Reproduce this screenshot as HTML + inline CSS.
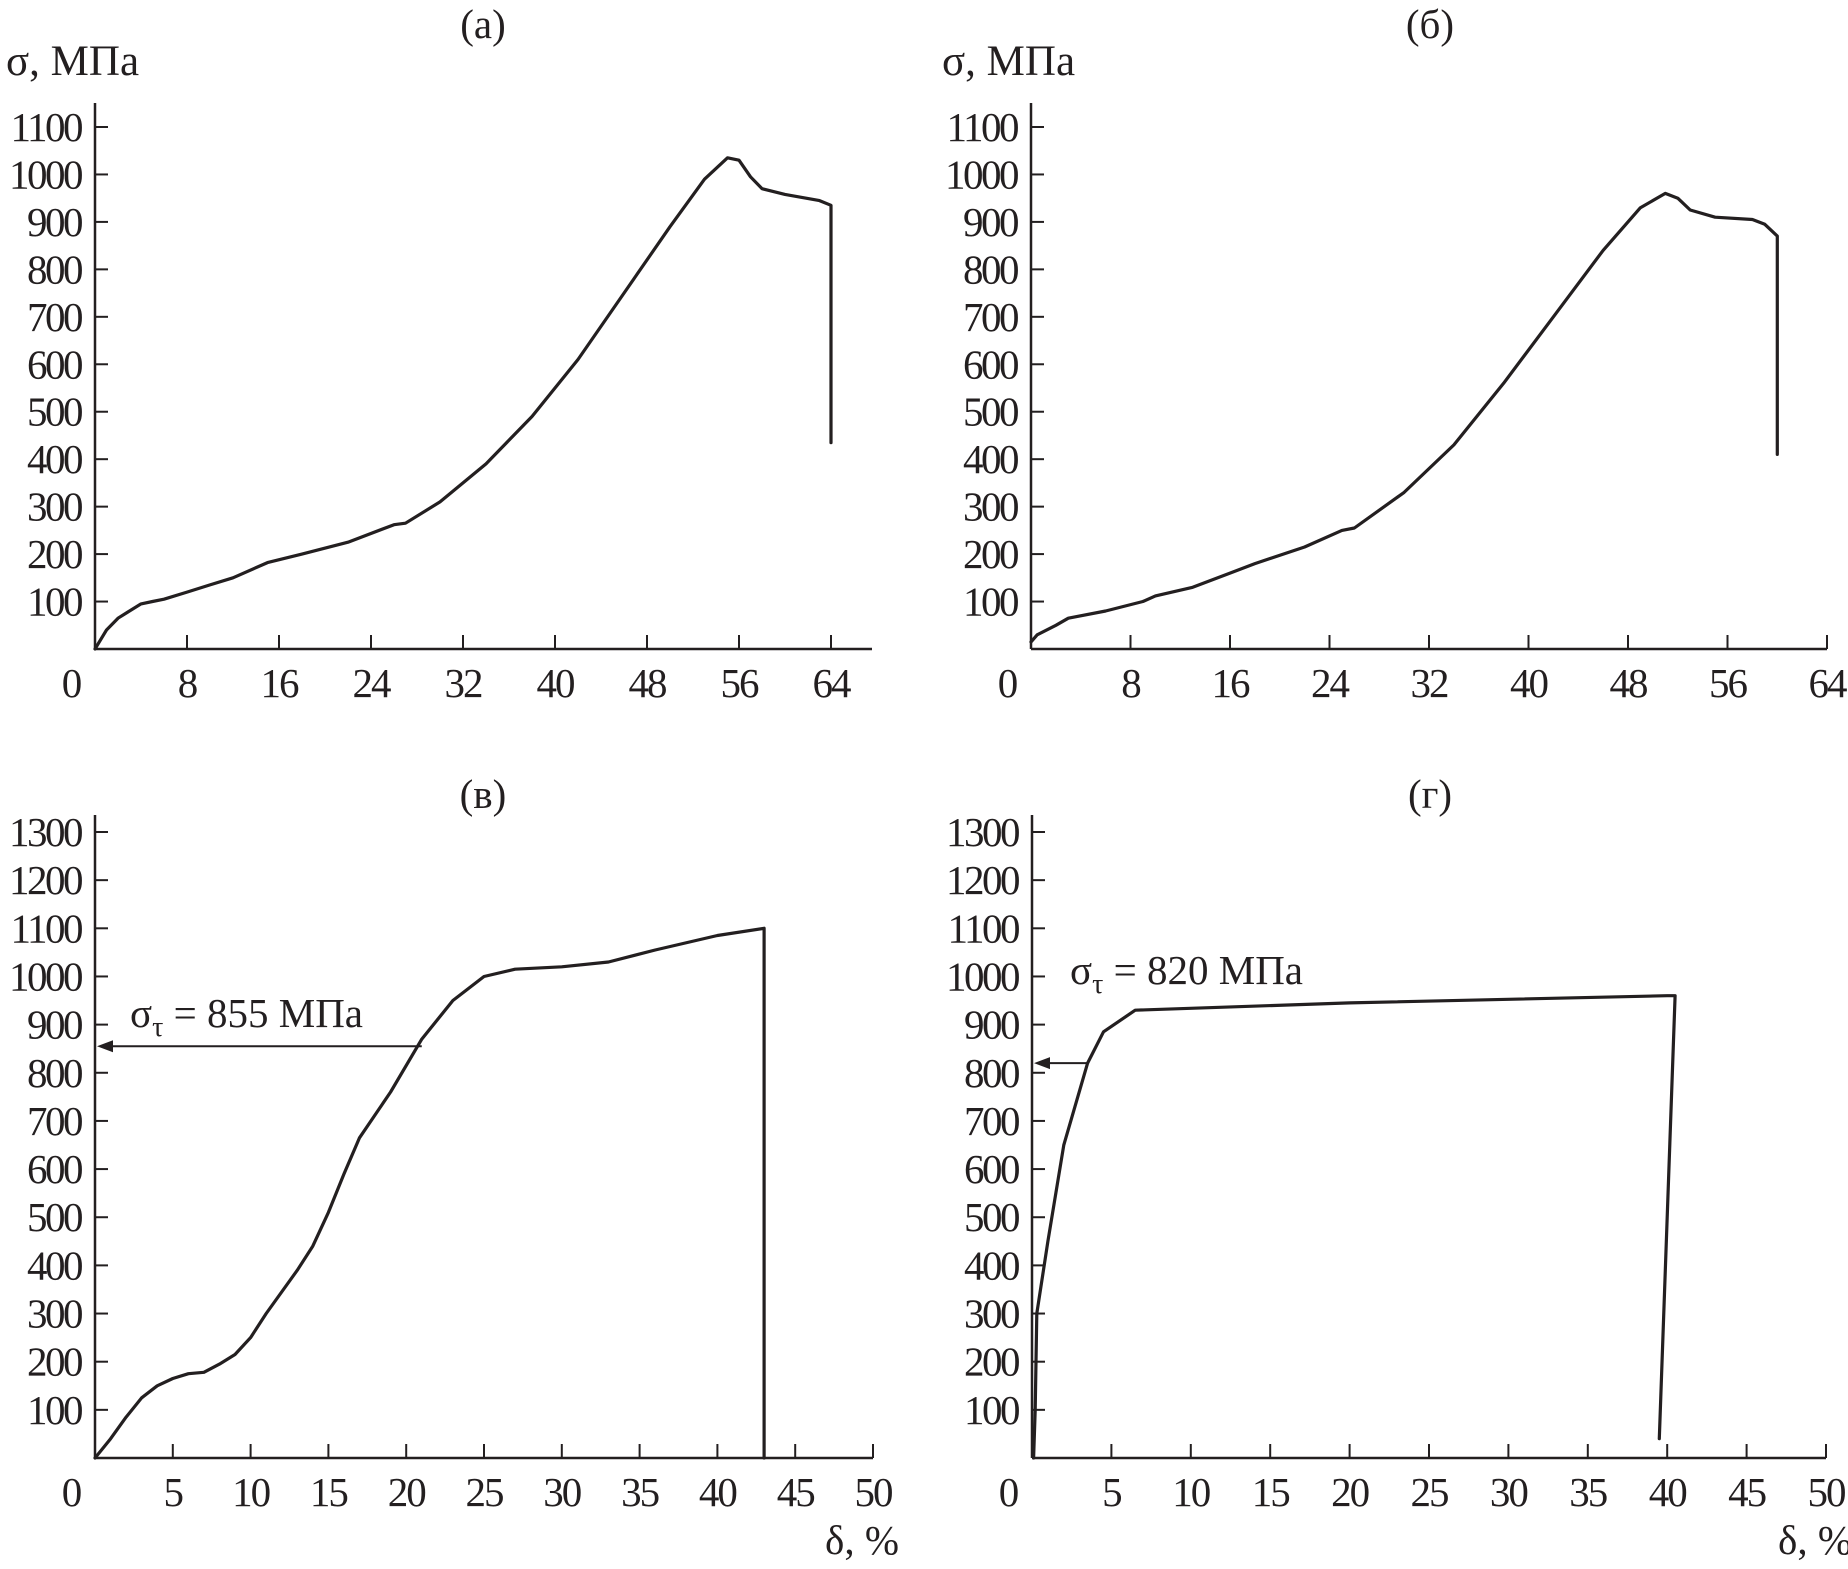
<!DOCTYPE html>
<html><head><meta charset="utf-8">
<style>
html,body{margin:0;padding:0;background:#fff;}
svg{display:block;}
text{font-family:"Liberation Serif","DejaVu Serif",serif;fill:#231f20;}
</style></head>
<body>
<svg id="chart" width="1848" height="1569" viewBox="0 0 1848 1569" xmlns="http://www.w3.org/2000/svg" font-family="Liberation Serif, serif"></svg>
<script>
// Panel (а)
const aX = [0,1,2,3,4,5,6,8,10,12,15,18,22,26,27,30,34,38,42,46,50,53,55,56,57,58,60,63,64,64];
const aY = [0,40,65,80,95,100,105,120,135,150,182,200,225,262,265,310,390,490,610,750,890,990,1035,1030,995,970,958,945,935,435];
// Panel (б)
const bX = [0,0.5,2,3,6,9,10,13,16,18,22,25,26,30,34,38,42,46,49,51,52,53,55,58,59,60,60];
const bY = [15,30,50,65,80,100,112,130,160,180,215,250,255,330,430,560,700,840,930,960,950,925,910,905,895,870,410];
// Panel (в)
const cX = [0,1,2,3,4,5,6,7,8,9,10,11,13,14,15,16,17,19,21,23,25,27,30,33,36,40,43,43];
const cY = [0,40,85,125,150,165,175,178,195,215,250,300,390,440,510,590,665,760,870,950,1000,1015,1020,1030,1055,1085,1100,0];
// Panel (г)
const dX = [0.1,0.2,0.3,1,2,3.5,4.5,6.5,20,40,40.5,39.5];
const dY = [0,100,300,450,650,820,885,930,945,960,960,40];
const ticksTop = [0,8,16,24,32,40,48,56,64];
const ticksBot = [0,5,10,15,20,25,30,35,40,45,50];
const yTop = [100,200,300,400,500,600,700,800,900,1000,1100];
const yBot = [100,200,300,400,500,600,700,800,900,1000,1100,1200,1300];
const yieldC = 855, yieldCX = 21;
const yieldD = 820, yieldDX = 3.5;

const NS="http://www.w3.org/2000/svg";
const svg=document.getElementById('chart');
function el(tag,attrs,parent,txt){const e=document.createElementNS(NS,tag);for(const k in attrs)e.setAttribute(k,attrs[k]);if(txt!==undefined)e.textContent=txt;(parent||svg).appendChild(e);return e;}

function panel(cfg){
  const g=el('g',{});
  
  
  const sx=v=>cfg.x0+v/cfg.xmax*(cfg.x1-cfg.x0);
  const sy=v=>cfg.y0-v/cfg.ymax*(cfg.y0-cfg.y1);
  const ax=el('line',{x1:cfg.x0,y1:cfg.y0,x2:cfg.x0,y2:cfg.axTop,stroke:'#231f20','stroke-width':2.5},g);
  
  
  const bx=el('line',{x1:cfg.x0,y1:cfg.y0,x2:cfg.axRight,y2:cfg.y0,stroke:'#231f20','stroke-width':2.5},g);
  
  
  cfg.yt.forEach(v=>{
    el('line',{x1:cfg.x0,y1:sy(v),x2:cfg.x0+13,y2:sy(v),stroke:'#231f20','stroke-width':2},g);
    const t=el('text',{x:cfg.x0-14,y:sy(v)+14,'text-anchor':'end','font-size':41,'letter-spacing':'-2.5'},g,String(v));
    
    
  });
  cfg.xt.forEach(v=>{
    if(v!==0) el('line',{x1:sx(v),y1:cfg.y0,x2:sx(v),y2:cfg.y0-14,stroke:'#231f20','stroke-width':2},g);
    const t=el('text',{x:v===0?cfg.x0-24:sx(v),y:cfg.y0+48,'text-anchor':'middle','font-size':41,'letter-spacing':'-2'},g,String(v));
    
    
  });
  const title=el('text',{x:cfg.tx,y:cfg.ty,'text-anchor':'middle','font-size':41},g,cfg.title);
  
  
  if(cfg.ylabel){
    const t=el('text',{x:cfg.x0-89,y:cfg.y1-52,'font-size':43},g,'σ, МПа');
    
    
  }
  if(cfg.xlabel){
    const t=el('text',{x:cfg.x1+26,y:cfg.y0+96,'text-anchor':'end','font-size':41},g,'δ, %');
    
    
  }
  const d=cfg.xs.map((v,i)=>(i?'L':'M')+sx(v).toFixed(1)+','+sy(cfg.ys[i]).toFixed(1)).join(' ');
  const p=el('path',{d:d,fill:'none',stroke:'#231f20','stroke-width':3.2,'stroke-linejoin':'round','stroke-linecap':'round'},g);
  
  
  if(cfg.yieldV!==undefined){
    const yy=sy(cfg.yieldV);
    const l=el('line',{x1:sx(cfg.yieldX),y1:yy,x2:cfg.x0+14,y2:yy,stroke:'#231f20','stroke-width':2},g);
    
    
    const h=el('path',{d:`M${cfg.x0+2},${yy} L${cfg.x0+18},${yy-6} L${cfg.x0+18},${yy+6} Z`,fill:'#231f20'},g);
    
    
    const t=el('text',{x:cfg.annX,y:cfg.annY,'font-size':41},g);
    
    
    el('tspan',{},t,'σ');
    el('tspan',{dy:9,'font-size':28},t,'τ');
    el('tspan',{dy:-9},t,' = '+cfg.yieldV+' МПа');
  }
}
panel({name:'panel-a',title:'(а)',tx:483,ty:38,x0:95,x1:831,y0:649,y1:127,axTop:103,axRight:872,xmax:64,ymax:1100,xt:ticksTop,yt:yTop,xs:aX,ys:aY,ylabel:true});
panel({name:'panel-b',title:'(б)',tx:1430,ty:38,x0:1031,x1:1827,y0:649,y1:127,axTop:103,axRight:1827,xmax:64,ymax:1100,xt:ticksTop,yt:yTop,xs:bX,ys:bY,ylabel:true});
panel({name:'panel-c',title:'(в)',tx:483,ty:808,x0:95,x1:873,y0:1458,y1:832,axTop:815,axRight:873,xmax:50,ymax:1300,xt:ticksBot,yt:yBot,xs:cX,ys:cY,xlabel:true,yieldV:yieldC,yieldX:yieldCX,annX:130,annY:1027});
panel({name:'panel-d',title:'(г)',tx:1430,ty:808,x0:1032,x1:1826,y0:1458,y1:832,axTop:815,axRight:1826,xmax:50,ymax:1300,xt:ticksBot,yt:yBot,xs:dX,ys:dY,xlabel:true,yieldV:yieldD,yieldX:yieldDX,annX:1070,annY:984});
</script>
</body></html>
